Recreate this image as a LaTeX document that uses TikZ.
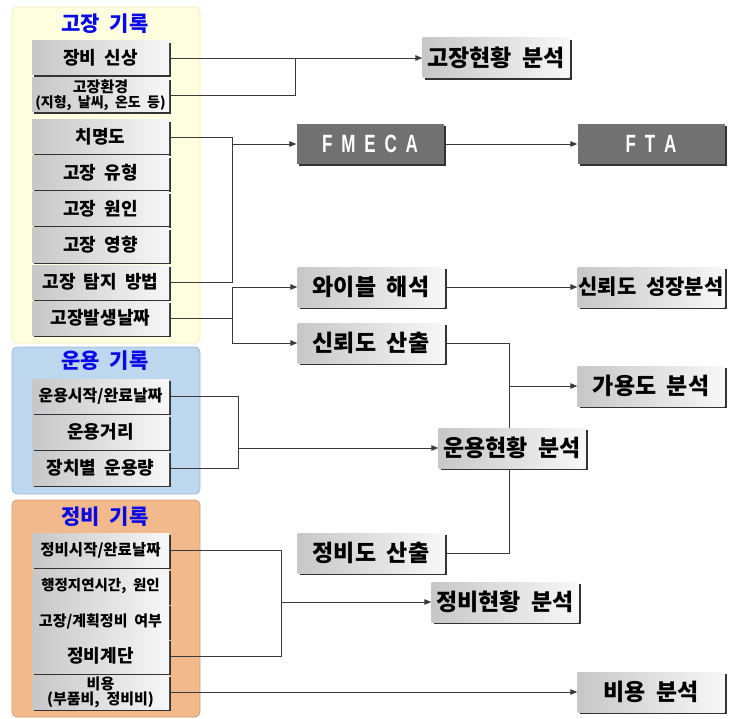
\documentclass[tikz,border=0pt]{standalone}
\usepackage{fontspec}
\setmainfont{Noto Sans CJK KR}[WordSpace=2]
\newfontfamily\latinb{Liberation Sans}
\usetikzlibrary{shadows,arrows.meta,backgrounds}
\pgfdeclarelayer{back}
\pgfsetlayers{back,background,main}
\definecolor{panYf}{HTML}{FFFFE0}
\definecolor{panYd}{HTML}{F0EDB8}
\definecolor{panBf}{HTML}{BDD7EE}
\definecolor{panBd}{HTML}{9CBAD6}
\definecolor{panOf}{HTML}{F2BA8C}
\definecolor{panOd}{HTML}{D49C70}
\definecolor{ttl}{HTML}{0A0AE6}
\definecolor{lnc}{HTML}{3A3A3A}
\definecolor{darkbox}{HTML}{717171}
\tikzset{
  panel/.style={rounded corners=5pt, line width=0.8pt},
  ttlnode/.style={text=ttl, font=\fontsize{21}{22}\selectfont\bfseries, inner sep=0pt},
  shad/.style={drop shadow={shadow xshift=2pt, shadow yshift=-2pt, fill=black!80, opacity=1}},
  lbox/.style={shad, left color=black!22, right color=black!3, minimum width=137pt, minimum height=34pt,
    align=center, inner sep=1pt, font=\fontsize{18}{19}\selectfont\bfseries},
  rbox/.style={shad, left color=black!22, right color=black!3, minimum width=147pt, minimum height=40pt,
    align=center, inner sep=1pt, font=\fontsize{23}{24}\selectfont\bfseries},
  dbox/.style={shad, fill=darkbox, minimum width=147pt, minimum height=40pt, text=white,
    inner sep=1pt, font=\latinb\fontsize{25}{26}\selectfont\bfseries},
  ln/.style={draw=lnc, line width=0.9pt},
  ar/.style={ln, -{Triangle[length=7pt,width=5.5pt]}},
}
\begin{document}
\begin{tikzpicture}[x=1pt,y=-1pt]
\useasboundingbox (0,0) rectangle (730,719);
% left: failure records
\node[ttlnode] (tY) at (105,24) {고장 기록};
\node[lbox] (f1) at (100.5,58) {장비 신상};
\node[lbox, font=\fontsize{14}{14.5}\selectfont\bfseries] (f2) at (100.5,95) {{\fontsize{15}{14.5}\selectfont 고장환경}\\(지형, 날씨, 온도 등)};
\node[lbox] (f3) at (100.5,137) {치명도};
\node[lbox] (f4) at (100.5,173) {고장 유형};
\node[lbox] (f5) at (100.5,209) {고장 원인};
\node[lbox] (f6) at (100.5,245) {고장 영향};
\node[lbox] (f7) at (100.5,282) {고장 탐지 방법};
\node[lbox] (f8) at (100.5,318) {고장발생날짜};
% operation records
\node[ttlnode] (tO) at (105,361) {운용 기록};
\node[lbox, font=\fontsize{16}{17}\selectfont\bfseries] (o1) at (100.5,396) {운용시작/완료날짜};
\node[lbox] (o2) at (100.5,432) {운용거리};
\node[lbox] (o3) at (100.5,468) {장치별 운용량};
% maintenance records
\node[ttlnode] (tM) at (105,517) {정비 기록};
\node[lbox, font=\fontsize{15.5}{16}\selectfont\bfseries] (m1) at (100.5,550) {정비시작/완료날짜};
\node[lbox, font=\fontsize{14.5}{15}\selectfont\bfseries] (m2) at (100.5,586) {행정지연시간, 원인};
\node[lbox, font=\fontsize{15}{16}\selectfont\bfseries] (m3) at (100.5,621) {고장/계획정비 여부};
\node[lbox] (m4) at (100.5,656) {정비계단};
\node[lbox, font=\fontsize{15}{14}\selectfont\bfseries] (m5) at (100.5,692) {비용\\(부품비, 정비비)};
% right side
\node[rbox] (gh) at (496,58) {고장현황 분석};
\node[dbox] (fmeca) at (370,144) {\scalebox{0.68}[1]{F\hspace{13pt}M\hspace{13pt}E\hspace{13pt}C\hspace{13pt}A}};
\node[dbox] (fta) at (651,144) {\scalebox{0.68}[1]{F\hspace{13pt}T\hspace{13pt}A}};
\node[rbox] (wb) at (371,287) {와이블 해석};
\node[rbox, font=\fontsize{21}{22}\selectfont\bfseries] (rg) at (651,287) {신뢰도 성장분석};
\node[rbox] (rc) at (371,343) {신뢰도 산출};
\node[rbox] (av) at (651,386) {가용도 분석};
\node[rbox] (oa) at (512,448) {운용현황 분석};
\node[rbox] (mc) at (371,553) {정비도 산출};
\node[rbox] (ma) at (505,602) {정비현황 분석};
\node[rbox] (ca) at (651,692) {비용 분석};
% junction coordinates
\coordinate (jA) at (295,0);
\coordinate (jB) at (232,0);
\coordinate (jC) at (509,0);
\coordinate (jD) at (238,0);
\coordinate (jE) at (281,0);
\begin{pgfonlayer}{back}
  \draw[panel, fill=panYf, draw=panYd] (12,7) rectangle (200,343);
  \draw[panel, fill=panBf, draw=panBd] (12,347) rectangle (200,494);
  \draw[panel, fill=panOf, draw=panOd] (12,500) rectangle (200,717);
\end{pgfonlayer}
\begin{scope}[on background layer]
  \draw[ln] (f2.east) -| (jA |- f1.east);
  \draw[ar] (f1.east) -- (gh.west);
  \draw[ln] (f3.east) -| (jB |- f7.east) -- (f7.east);
  \draw[ar] (jB |- fmeca.west) -- (fmeca.west);
  \draw[ar] (fmeca.east) -- (fta.west);
  \draw[ln] (f8.east) -- (jB |- f8.east);
  \draw[ar] (jB |- f8.east) |- (wb.west);
  \draw[ar] (jB |- f8.east) |- (rc.west);
  \draw[ar] (wb.east) -- (rg.west);
  \draw[ln] (rc.east) -| (jC |- mc.east) -- (mc.east);
  \draw[ar] (jC |- av.west) -- (av.west);
  \draw[ln] (o1.east) -| (jD |- o3.east) -- (o3.east);
  \draw[ar] (jD |- oa.west) -- (oa.west);
  \draw[ln] (m1.east) -| (jE |- m4.east) -- (m4.east);
  \draw[ar] (jE |- ma.west) -- (ma.west);
  \draw[ar] (m5.east) -- (ca.west);
\end{scope}
\end{tikzpicture}
\end{document}
